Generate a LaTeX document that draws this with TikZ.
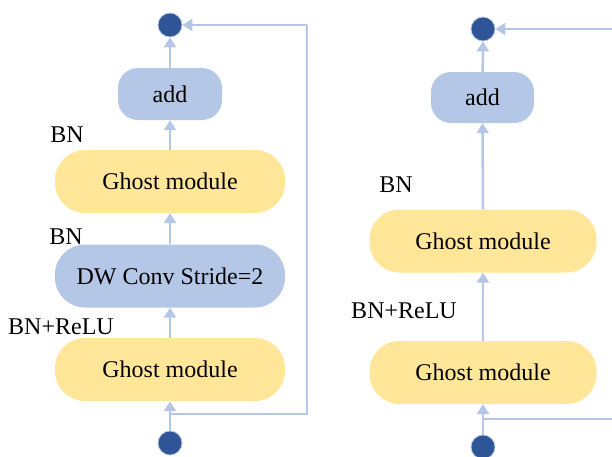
\documentclass[tikz,border=0pt]{standalone}
\usepackage{fontspec}
\setmainfont{Liberation Serif}
\usetikzlibrary{arrows.meta}
\definecolor{blockblue}{HTML}{B4C7E7}
\definecolor{blockyellow}{HTML}{FFE699}
\definecolor{dotblue}{HTML}{2F5597}
\definecolor{linkblue}{HTML}{B4C7E7}
\tikzset{
  lbl/.style={font=\fontsize{24}{28}\selectfont, inner sep=0pt},
  pill/.style={lbl, rounded corners=30pt, minimum width=230pt, minimum height=63pt},
  ghostbox/.style={pill, fill=blockyellow},
  convbox/.style={pill, fill=blockblue},
  addbox/.style={lbl, fill=blockblue, rounded corners=20pt, minimum width=104pt, minimum height=52pt},
  dot/.style={circle, fill=dotblue, draw=blockblue, line width=0.8pt, minimum size=24pt, inner sep=0pt},
  link/.style={draw=linkblue, line width=2.5pt, -{Triangle[length=10pt,width=12pt]}},
  plain/.style={draw=linkblue, line width=2.5pt}
}
\begin{document}
\begin{tikzpicture}[x=1pt,y=-1pt]
\useasboundingbox (0,0) rectangle (612,456);

% stride-2 block
\node[dot] (lout) at (170,25) {};
\node[addbox] (ladd) at (170,94) {add};
\node[ghostbox] (lg2) at (170,181.5) {Ghost module};
\node[convbox] (ldw) at (170,276) {DW Conv Stride=2};
\node[ghostbox] (lg1) at (170,369.5) {Ghost module};
\node[dot] (lin) at (170,443) {};
\coordinate (lsplit) at (170,414);
\coordinate (lcr1) at (307,414);
\coordinate (lcr2) at (307,25);

\draw[link] (lin) -- (lg1);
\draw[link] (lg1) -- (ldw);
\draw[link] (ldw) -- (lg2);
\draw[link] (lg2) -- (ladd);
\draw[link] (ladd) -- (lout);
\draw[plain, line join=miter] (lsplit) -- (lcr1) -- (lcr2);
\draw[link] (lcr2) -- (lout);

\node[lbl] (lbn2) at (67,135) {BN};
\node[lbl] (lbn1) at (66,237) {BN};
\node[lbl] (lbnr) at (61,327) {BN+ReLU};

% stride-1 block
\node[dot] (rout) at (483,29) {};
\node[addbox, minimum width=103pt, minimum height=51pt] (radd) at (482.5,97.5) {add};
\node[ghostbox, minimum width=227pt] (rg2) at (483,241) {Ghost module};
\node[ghostbox, minimum width=227pt] (rg1) at (483,372.5) {Ghost module};
\node[dot] (rin) at (483,447) {};
\coordinate (rsplit) at (483,419);
\coordinate (redge1) at (620,419);
\coordinate (redge2) at (620,29);

\draw[link] (rin) -- (rg1);
\draw[link] (rg1) -- (rg2);
\draw[link] (rg2) -- (radd);
\draw[link] (radd) -- (rout);
\draw[plain] (rsplit) -- (redge1);
\draw[link] (redge2) -- (rout);

\node[lbl] (rbn) at (396,185) {BN};
\node[lbl] (rbnr) at (404,311) {BN+ReLU};
\end{tikzpicture}
\end{document}
